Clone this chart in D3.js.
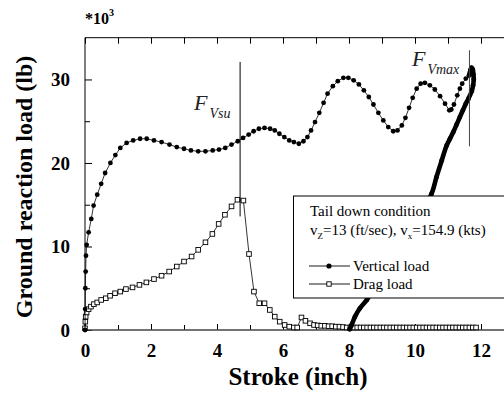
<!DOCTYPE html>
<html>
<head>
<meta charset="utf-8">
<script src="https://cdn.jsdelivr.net/npm/d3@7"></script>
<style>
  body { margin: 0; background: #fff; }
  svg { display: block; }
  text { font-family: "Liberation Serif", "Times New Roman", serif; }
</style>
</head>
<body>
<main></main>
<script>
// stroke in inch, load in 1000 lb
const vertLoadStroke = [0, 0.005, 0.01, 0.02, 0.03, 0.05, 0.11, 0.19, 0.26, 0.37, 0.49, 0.61, 0.77, 0.92, 1.07, 1.26, 1.46, 1.67, 1.87, 2.09, 2.32, 2.56, 2.78, 3.0, 3.21, 3.43, 3.65, 3.87, 4.06, 4.25, 4.44, 4.63, 4.79, 4.96, 5.11, 5.27, 5.44, 5.61, 5.75, 5.89, 6.04, 6.19, 6.33, 6.48, 6.62, 6.74, 6.85, 6.97, 7.1, 7.23, 7.35, 7.51, 7.66, 7.83, 7.98, 8.14, 8.3, 8.45, 8.6, 8.74, 8.89, 9.04, 9.19, 9.34, 9.47, 9.6, 9.71, 9.82, 9.93, 10.05, 10.17, 10.3, 10.45, 10.6, 10.76, 10.91, 11.04, 11.1, 11.18, 11.28, 11.36, 11.43, 11.54, 11.64];
const vertLoadValue = [0, 2.5, 5.0, 7.0, 8.9, 10.2, 11.7, 13.3, 14.9, 16.2, 17.5, 18.8, 20.0, 20.95, 21.8, 22.4, 22.7, 22.9, 22.9, 22.7, 22.5, 22.2, 21.9, 21.7, 21.5, 21.4, 21.4, 21.5, 21.6, 21.8, 22.2, 22.6, 23.0, 23.4, 23.8, 24.1, 24.2, 24.1, 23.9, 23.5, 23.1, 22.7, 22.5, 22.3, 22.6, 23.1, 23.9, 24.9, 26.0, 27.2, 28.3, 29.2, 29.8, 30.2, 30.2, 29.9, 29.4, 28.7, 27.9, 27.0, 26.0, 25.1, 24.3, 23.8, 23.9, 24.5, 25.4, 26.6, 27.8, 28.9, 29.5, 29.6, 29.3, 28.8, 28.0, 27.1, 26.3, 26.4, 27.0, 28.1, 28.9, 29.5, 30.1, 30.5];

const vertUnloadStroke = [11.64, 11.68, 11.71, 11.75, 11.77, 11.78, 11.76, 11.72, 11.62, 11.54, 11.45, 11.36, 11.26, 11.16, 11.06, 10.96, 10.81, 10.65, 10.5, 10.2, 9.8, 9.4, 9.0, 8.75, 8.54, 8.33, 8.18, 8.08, 8.02];
const vertUnloadValue = [30.5, 31.1, 31.4, 31.2, 30.6, 30.0, 29.3, 28.6, 27.7, 27.1, 26.3, 25.5, 24.6, 23.7, 22.9, 22.1, 20.3, 18.3, 16.3, 14.3, 11.7, 9.1, 6.6, 5.0, 3.6, 2.6, 1.6, 0.6, 0.1];

const dragStroke = [0, 0.01, 0.02, 0.05, 0.11, 0.18, 0.27, 0.37, 0.49, 0.63, 0.76, 0.91, 1.07, 1.24, 1.44, 1.65, 1.86, 2.09, 2.32, 2.55, 2.78, 3.0, 3.23, 3.43, 3.65, 3.86, 4.05, 4.24, 4.44, 4.62, 4.8, 4.97, 5.12, 5.28, 5.44, 5.6, 5.75, 5.9, 6.05, 6.19, 6.33, 6.43, 6.56, 6.68, 6.82, 6.94, 7.05, 7.16, 7.27, 7.38, 7.49, 7.6, 7.71, 7.82, 7.93, 8.04, 8.15, 8.25, 8.35, 8.45, 8.55, 8.65, 8.75, 8.85, 8.95, 9.05, 9.15, 9.25, 9.35, 9.45, 9.55, 9.65, 9.75, 9.85, 9.95, 10.05, 10.15, 10.25, 10.35, 10.45, 10.55, 10.65, 10.75, 10.85, 10.95, 11.05, 11.15, 11.25, 11.35, 11.45, 11.55, 11.65, 11.75, 11.85];
const dragValue = [0.2, 1.0, 1.6, 2.1, 2.5, 2.8, 3.1, 3.3, 3.6, 3.8, 4.1, 4.4, 4.6, 4.9, 5.1, 5.4, 5.7, 6.1, 6.5, 7.0, 7.6, 8.2, 8.8, 9.6, 10.5, 11.5, 12.7, 13.8, 14.8, 15.6, 15.5, 9.1, 4.6, 3.2, 3.2, 2.4, 1.6, 1.0, 0.6, 0.4, 0.3, 0.3, 1.5, 1.1, 0.8, 0.6, 0.55, 0.5, 0.5, 0.45, 0.45, 0.4, 0.4, 0.35, 0.3, 0.3, 0.3, 0.3, 0.3, 0.3, 0.3, 0.3, 0.3, 0.3, 0.3, 0.3, 0.3, 0.3, 0.3, 0.3, 0.3, 0.3, 0.3, 0.3, 0.3, 0.3, 0.3, 0.3, 0.3, 0.3, 0.3, 0.3, 0.3, 0.3, 0.3, 0.3, 0.3, 0.3, 0.3, 0.3, 0.3, 0.3, 0.3, 0.3];

const xTicks = [0, 2, 4, 6, 8, 10, 12];
const xMinorTicks = [1, 3, 5, 7, 9, 11];
const yTicks = [0, 10, 20, 30];
const yMinorTicks = [5, 15, 25];

// marker lines: [stroke, load from, load to]
const fVsuLine = [4.7, 13.6, 32.1];
const fVmaxLine = [11.65, 22.0, 33.5];

const legendTitle = "Tail down condition";
const seriesNames = ["Vertical load", "Drag load"];

const width = 504;
const height = 394;
const plot = {left: 85, top: 37.7, bottom: 330};
const serif = "'Liberation Serif', 'Times New Roman', serif";

const createCanvas = () => {
    return d3.select("main")
             .append("svg")
             .attr("width", width)
             .attr("height", height)
             .attr("font-family", serif);
};

const calculateScales = () => {
    const xScale = d3.scaleLinear()
                     .domain([0, 13])
                     .range([plot.left, plot.left + 13 * 33]);
    const yScale = d3.scaleLinear()
                     .domain([0, 35])
                     .range([plot.bottom, plot.top]);
    return {xScale, yScale};
};

const zip = (xs, ys) => xs.map((x, i) => [x, ys[i]]);

const createAxes = (scales, svg) => {
    const tickStyle = (g) => g.attr("font-family", serif)
                              .selectAll(".tick text")
                              .attr("font-family", serif)
                              .attr("font-weight", "bold")
                              .attr("font-size", "19px")
                              .attr("fill", "#000");

    // bottom
    svg.append("g")
       .attr("transform", `translate(0, ${plot.bottom})`)
       .call(d3.axisBottom(scales.xScale).tickValues(xTicks).tickSize(-6).tickPadding(14).tickFormat(d3.format("d")))
       .call(tickStyle)
       .call(g => g.select(".domain").remove());
    svg.append("g")
       .attr("transform", `translate(0, ${plot.bottom})`)
       .call(d3.axisBottom(scales.xScale).tickValues(xMinorTicks).tickSize(-5).tickFormat(""))
       .call(g => g.select(".domain").remove());

    // top
    svg.append("g")
       .attr("transform", `translate(0, ${plot.top})`)
       .call(d3.axisTop(scales.xScale).tickValues(xTicks.concat(xMinorTicks)).tickSize(-6).tickFormat(""))
       .call(g => g.select(".domain").remove());

    // left
    svg.append("g")
       .attr("transform", `translate(${plot.left}, 0)`)
       .call(d3.axisLeft(scales.yScale).tickValues(yTicks).tickSize(-7).tickPadding(15))
       .call(tickStyle)
       .call(g => g.select(".domain").remove());
    svg.append("g")
       .attr("transform", `translate(${plot.left}, 0)`)
       .call(d3.axisLeft(scales.yScale).tickValues(yMinorTicks).tickSize(-5).tickFormat(""))
       .call(g => g.select(".domain").remove());

    svg.append("line")
       .attr("x1", plot.left).attr("x2", width)
       .attr("y1", plot.top).attr("y2", plot.top)
       .attr("stroke", "#000");
    svg.append("line")
       .attr("x1", plot.left).attr("x2", plot.left)
       .attr("y1", plot.top).attr("y2", plot.bottom)
       .attr("stroke", "#000");
    svg.append("line")
       .attr("x1", plot.left).attr("x2", width)
       .attr("y1", plot.bottom).attr("y2", plot.bottom)
       .attr("stroke", "#444")
       .attr("stroke-width", 1.6);

    svg.append("text")
       .attr("transform", "translate(32, 187) rotate(-90)")
       .attr("text-anchor", "middle")
       .attr("font-weight", "bold")
       .attr("font-size", "24px")
       .text("Ground reaction load (lb)");

    svg.append("text")
       .attr("x", 298)
       .attr("y", 385)
       .attr("text-anchor", "middle")
       .attr("font-weight", "bold")
       .attr("font-size", "25px")
       .text("Stroke (inch)");

    const mult = svg.append("text")
       .attr("x", 85)
       .attr("y", 24)
       .attr("font-weight", "bold")
       .attr("font-size", "16px")
       .text("*10");
    mult.append("tspan")
        .attr("dy", -8)
        .attr("font-size", "10px")
        .text("3");
};

const createSeries = (scales, svg) => {
    const line = d3.line()
                   .x(d => scales.xScale(d[0]))
                   .y(d => scales.yScale(d[1]));

    const load = zip(vertLoadStroke, vertLoadValue);
    const unload = zip(vertUnloadStroke, vertUnloadValue);
    const drag = zip(dragStroke, dragValue);

    // drag load
    svg.append("path")
       .attr("d", line(drag))
       .attr("fill", "none")
       .attr("stroke", "#000")
       .attr("stroke-width", 0.8);
    svg.selectAll("rect.drag")
       .data(drag)
       .enter()
       .append("rect")
       .attr("class", "drag")
       .attr("x", d => scales.xScale(d[0]) - 2.3)
       .attr("y", d => scales.yScale(d[1]) - 2.3)
       .attr("width", 4.6)
       .attr("height", 4.6)
       .attr("fill", "#fff")
       .attr("stroke", "#000")
       .attr("stroke-width", 0.9);

    // vertical load
    svg.append("path")
       .attr("d", line(load))
       .attr("fill", "none")
       .attr("stroke", "#000")
       .attr("stroke-width", 0.8);
    svg.append("path")
       .attr("d", d3.line().curve(d3.curveCatmullRom)
                    .x(d => scales.xScale(d[0]))
                    .y(d => scales.yScale(d[1]))(unload))
       .attr("fill", "none")
       .attr("stroke", "#000")
       .attr("stroke-width", 4.6)
       .attr("stroke-linecap", "round")
       .attr("stroke-linejoin", "round");
    svg.selectAll("circle.vert")
       .data(load.concat(unload))
       .enter()
       .append("circle")
       .attr("class", "vert")
       .attr("cx", d => scales.xScale(d[0]))
       .attr("cy", d => scales.yScale(d[1]))
       .attr("r", 2.4)
       .attr("fill", "#000");
};

const createMarkers = (scales, svg) => {
    svg.append("line")
       .attr("x1", scales.xScale(fVsuLine[0])).attr("x2", scales.xScale(fVsuLine[0]))
       .attr("y1", scales.yScale(fVsuLine[1])).attr("y2", scales.yScale(fVsuLine[2]))
       .attr("stroke", "#000")
       .attr("stroke-width", 1);
    svg.append("line")
       .attr("x1", scales.xScale(fVmaxLine[0])).attr("x2", scales.xScale(fVmaxLine[0]))
       .attr("y1", scales.yScale(fVmaxLine[1])).attr("y2", scales.yScale(fVmaxLine[2]))
       .attr("stroke", "#444")
       .attr("stroke-width", 1);

    const label = (x, y, sub) => {
        const t = svg.append("text")
                     .attr("x", x)
                     .attr("y", y)
                     .attr("font-style", "italic")
                     .attr("fill", "#222")
                     .attr("font-size", "22px")
                     .text("F");
        t.append("tspan")
         .attr("dx", 2)
         .attr("dy", 8)
         .attr("font-size", "14px")
         .text(sub);
    };
    label(194, 110, "Vsu");
    label(412, 66, "Vmax");
};

const createLegend = (svg) => {
    svg.append("rect")
       .attr("x", 293.5)
       .attr("y", 196)
       .attr("width", 240)
       .attr("height", 102)
       .attr("fill", "#fff")
       .attr("stroke", "#000")
       .attr("stroke-width", 1);

    svg.append("text")
       .attr("x", 310)
       .attr("y", 216)
       .attr("font-size", "15px")
       .text(legendTitle);

    const cond = svg.append("text")
                    .attr("x", 310)
                    .attr("y", 235)
                    .attr("font-size", "15px");
    cond.append("tspan").text("v");
    cond.append("tspan").attr("dy", 4).attr("font-size", "9px").text("Z");
    cond.append("tspan").attr("dy", -4).text("=13 (ft/sec), v");
    cond.append("tspan").attr("dy", 4).attr("font-size", "9px").text("x");
    cond.append("tspan").attr("dy", -4).text("=154.9 (kts)");

    const rows = [266, 284];
    seriesNames.forEach((name, i) => {
        svg.append("line")
           .attr("x1", 309).attr("x2", 350)
           .attr("y1", rows[i]).attr("y2", rows[i])
           .attr("stroke", "#000")
           .attr("stroke-width", 0.9);
        if (i === 0) {
            svg.append("circle")
               .attr("cx", 329).attr("cy", rows[i])
               .attr("r", 2.6)
               .attr("fill", "#000");
        } else {
            svg.append("rect")
               .attr("x", 326.8).attr("y", rows[i] - 2.2)
               .attr("width", 4.4).attr("height", 4.4)
               .attr("fill", "#fff")
               .attr("stroke", "#000")
               .attr("stroke-width", 0.9);
        }
        svg.append("text")
           .attr("x", 353)
           .attr("y", rows[i] + 5)
           .attr("font-size", "15px")
           .text(name);
    });
};

const driver = () => {
    const svg = createCanvas();
    const scales = calculateScales();
    createAxes(scales, svg);
    createSeries(scales, svg);
    createMarkers(scales, svg);
    createLegend(svg);
};

driver();
</script>
</body>
</html>
